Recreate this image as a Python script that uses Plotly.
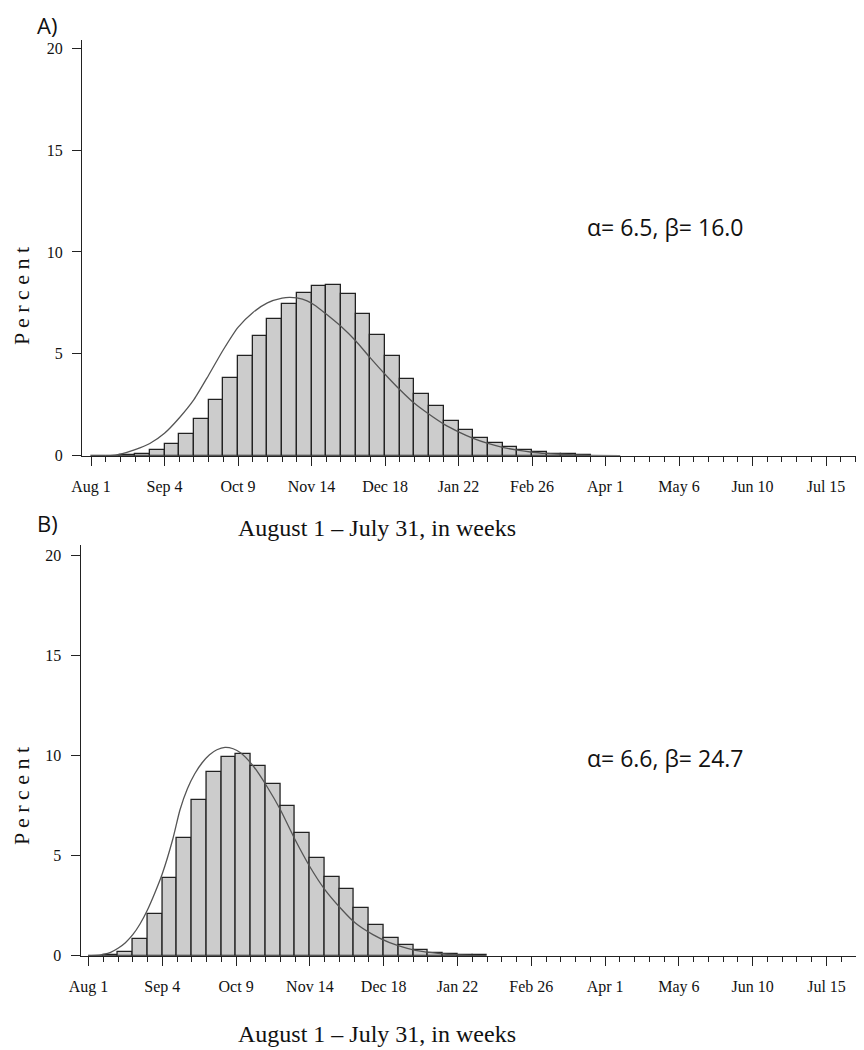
import plotly.graph_objects as go

# ── Data ─────────────────────────────────────────────────────────────────
# week index 0 = Aug 1; bars span week k .. k+1
TICK_WEEKS  = [0, 5, 10, 15, 20, 25, 30, 35, 40, 45, 50]
TICK_LABELS = ["Aug 1", "Sep 4", "Oct 9", "Nov 14", "Dec 18", "Jan 22",
               "Feb 26", "Apr 1", "May 6", "Jun 10", "Jul 15"]

weeks_a = list(range(34))
pct_a = [0, 0, 0.04, 0.06, 0.29, 0.57, 1.08, 1.81, 2.71, 3.82, 4.87, 5.86,
         6.70, 7.45, 8.00, 8.35, 8.38, 7.93, 6.93, 5.92, 4.87, 3.77, 3.04,
         2.42, 1.72, 1.24, 0.87, 0.62, 0.41, 0.28, 0.16, 0.08, 0.06, 0.04]

curve_a_x = [0, 1.3, 2.0, 3.0, 4.0, 5.0, 6.0, 7.0, 8.0, 9.0, 10.0, 11.0,
             12.0, 13.0, 13.5, 14.0, 14.7, 15.3, 16.0, 17.0, 18.0, 19.0,
             20.0, 21.0, 22.0, 23.0, 24.0, 25.0, 26.0, 27.0, 28.0, 29.0,
             30.0, 31.0, 32.0, 33.0, 34.0, 36.0]
curve_a_y = [0, 0, 0.08, 0.30, 0.60, 1.10, 1.85, 2.75, 3.95, 5.20, 6.30,
             7.02, 7.50, 7.73, 7.77, 7.74, 7.60, 7.35, 6.95, 6.35, 5.64,
             4.80, 4.00, 3.25, 2.57, 2.03, 1.55, 1.17, 0.85, 0.60, 0.41,
             0.27, 0.17, 0.11, 0.07, 0.04, 0.02, 0]

weeks_b = list(range(27))
pct_b = [0.01, 0.03, 0.20, 0.82, 2.10, 3.87, 5.90, 7.79, 9.17, 9.95, 10.09,
         9.50, 8.59, 7.49, 6.15, 4.88, 3.95, 3.36, 2.40, 1.54, 0.90, 0.52,
         0.27, 0.15, 0.08, 0.03, 0.02]

curve_b_x = [0, 0.5, 1.0, 1.5, 2.0, 2.5, 3.0, 3.5, 4.0, 4.5, 5.0, 5.7, 6.2,
             6.7, 7.2, 7.7, 8.2, 8.7, 9.25, 9.8, 10.3, 11.2, 12.1, 13.0,
             14.0, 15.0, 16.0, 17.05, 18.1, 19.3, 20.4, 21.6, 22.7, 23.8,
             24.9, 26.5]
curve_b_y = [0, 0.01, 0.07, 0.17, 0.37, 0.65, 1.05, 1.60, 2.30, 3.15, 4.10,
             5.80, 7.30, 8.35, 9.10, 9.65, 10.05, 10.30, 10.42, 10.35, 10.15,
             9.45, 8.45, 7.30, 5.80, 4.45, 3.32, 2.40, 1.62, 1.04, 0.65,
             0.37, 0.20, 0.11, 0.05, 0]

# ── Style ────────────────────────────────────────────────────────────────
# the page body keeps its default 8px margin, so positions below are page
# pixels and get shifted by _OFF into figure pixels
_OFF = 8
W, H = 864 - _OFF, 1050 - _OFF
_INK   = "#222222"
_BAR   = "#cccccc"
_CURVE = "#555555"
_SERIF = "Liberation Serif, Times New Roman, serif"
_SANS  = "Open Sans, Noto Sans, sans-serif"


def px_x(x):
    return (x - _OFF) / W


def px_y(y):
    return 1 - (y - _OFF) / H


def _xaxis(left_px, aug1_px, step_px, anchor):
    kmin = (left_px - aug1_px) / step_px
    kmax = (864 - aug1_px) / step_px
    return dict(
        domain=[px_x(left_px), 1.0], range=[kmin, kmax], anchor=anchor,
        automargin=False,
        showline=True, linecolor=_INK, linewidth=1.3,
        showgrid=False, zeroline=False,
        tickmode="array", tickvals=TICK_WEEKS, ticktext=TICK_LABELS,
        ticks="outside", ticklen=9, tickwidth=1.3, tickcolor=_INK,
        ticklabelstandoff=7,
        tickfont=dict(family=_SERIF, size=16, color="#111"),
        minor=dict(tickmode="array", tickvals=list(range(53)),
                   ticks="outside", ticklen=5, tickwidth=1.2,
                   tickcolor=_INK, showgrid=False),
    )


def _yaxis(top_px, bottom_px, ymax, anchor):
    return dict(
        domain=[px_y(bottom_px), px_y(top_px)], range=[0, ymax],
        anchor=anchor, automargin=False,
        showline=True, linecolor=_INK, linewidth=1.3,
        showgrid=False, zeroline=False,
        tickvals=[0, 5, 10, 15, 20],
        ticks="outside", ticklen=9, tickwidth=1.3, tickcolor=_INK,
        ticklabelstandoff=6,
        tickfont=dict(family=_SERIF, size=16, color="#111"),
    )


fig = go.Figure()

# ── Panel A ──────────────────────────────────────────────────────────────
fig.add_trace(go.Bar(
    x=[k + 0.5 for k in weeks_a], y=pct_a, width=1,
    marker=dict(color=_BAR, line=dict(color=_INK, width=1.3)),
    xaxis="x", yaxis="y", showlegend=False,
))
fig.add_trace(go.Scatter(
    x=curve_a_x, y=curve_a_y, mode="lines",
    line=dict(color=_CURVE, width=1.3, shape="spline", smoothing=0.6),
    xaxis="x", yaxis="y", showlegend=False,
))

# ── Panel B ──────────────────────────────────────────────────────────────
fig.add_trace(go.Bar(
    x=[k + 0.5 for k in weeks_b], y=pct_b, width=1,
    marker=dict(color=_BAR, line=dict(color=_INK, width=1.3)),
    xaxis="x2", yaxis="y2", showlegend=False,
))
fig.add_trace(go.Scatter(
    x=curve_b_x, y=curve_b_y, mode="lines",
    line=dict(color=_CURVE, width=1.3, shape="spline", smoothing=0.6),
    xaxis="x2", yaxis="y2", showlegend=False,
))

annotations = []
for top, txt in [(8, "A)"), (506, "B)")]:
    annotations.append(dict(
        text=txt, xref="paper", yref="paper", x=px_x(35), y=px_y(top),
        xanchor="left", yanchor="top", showarrow=False,
        font=dict(family=_SANS, size=22, color="#111"),
    ))
for cy in [296, 796]:
    annotations.append(dict(
        text="P e r c e n t", xref="paper", yref="paper",
        x=px_x(21), y=px_y(cy), xanchor="center", yanchor="middle",
        textangle=-90, showarrow=False,
        font=dict(family=_SERIF, size=22, color="#111"),
    ))
for cy in [528, 1034]:
    annotations.append(dict(
        text="August 1 – July 31, in weeks", xref="paper", yref="paper",
        x=px_x(377), y=px_y(cy), xanchor="center", yanchor="middle",
        showarrow=False,
        font=dict(family=_SERIF, size=24, color="#111"),
    ))
for cy, txt in [(227, "α= 6.5, β= 16.0"), (758, "α= 6.6, β= 24.7")]:
    annotations.append(dict(
        text=txt, xref="paper", yref="paper",
        x=px_x(665), y=px_y(cy), xanchor="center", yanchor="middle",
        showarrow=False,
        font=dict(family=_SANS, size=23, color="#111"),
    ))

fig.update_layout(
    width=W, height=H,
    margin=dict(l=0, r=0, t=0, b=0, pad=0, autoexpand=False),
    paper_bgcolor="white", plot_bgcolor="white",
    bargap=0,
    xaxis=_xaxis(82, 91, 14.7, "y"),
    yaxis=_yaxis(40, 455.7, 20.4, "x"),
    xaxis2=_xaxis(80.7, 88.5, 14.76, "y2"),
    yaxis2=_yaxis(545, 955.7, 20.54, "x2"),
    annotations=annotations,
)

fig.write_html("out.html")
